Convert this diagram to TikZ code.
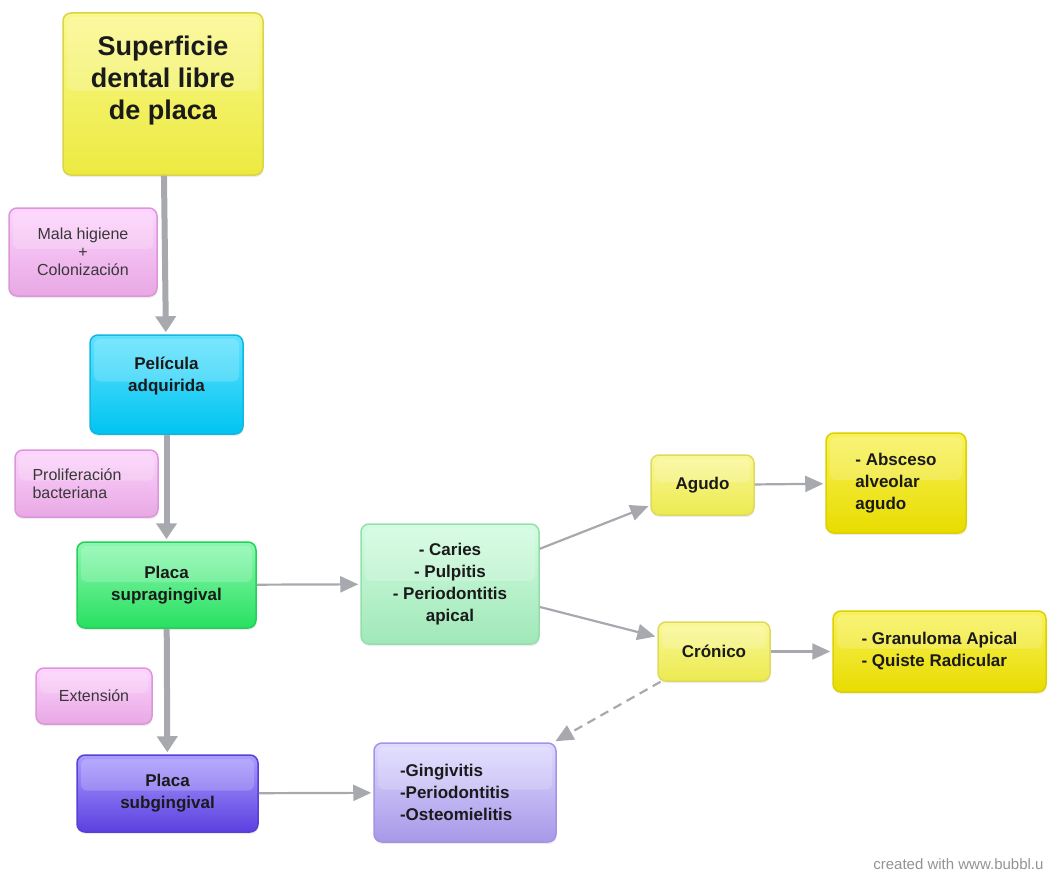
\documentclass[tikz,border=0pt]{standalone}
\usepackage{fontspec}
\setmainfont{Liberation Sans}
\usetikzlibrary{arrows.meta,shadows}

\definecolor{linkgray}{HTML}{A7A9AE}
\definecolor{inkdark}{HTML}{1A1A1A}

\begin{document}
\begin{tikzpicture}[x=1pt,y=-1pt,
    box/.style={rounded corners=8pt, line width=1.5pt, align=center, inner sep=4pt, text=inkdark,
        drop shadow={opacity=0.15, shadow xshift=0.5pt, shadow yshift=-2pt},
        path picture={\fill[white, opacity=0.18, rounded corners=6pt]
            ([xshift=4pt,yshift=-4pt]path picture bounding box.north west) rectangle
            ([xshift=-4pt,yshift=3pt]path picture bounding box.east);}},
    topic/.style={box, font=\bfseries\fontsize{17}{22}\selectfont},
    note/.style={box, font=\fontsize{16}{18}\selectfont, text=black!78},
    boxtext/.style={font=\bfseries\fontsize{17}{22}\selectfont, text=inkdark, align=center},
    yellowbox/.style={top color={rgb,255:red,250;green,248;blue,140}, bottom color={rgb,255:red,236;green,234;blue,64}, draw={rgb,255:red,218;green,212;blue,70}},
    lightyellow/.style={top color={rgb,255:red,250;green,248;blue,150}, bottom color={rgb,255:red,236;green,234;blue,80}, draw={rgb,255:red,222;green,218;blue,96}},
    goldbox/.style={top color={rgb,255:red,248;green,242;blue,90}, bottom color={rgb,255:red,232;green,220;blue,0}, draw={rgb,255:red,220;green,208;blue,0}},
    pinkbox/.style={top color={rgb,255:red,253;green,212;blue,253}, bottom color={rgb,255:red,232;green,168;blue,228}, draw={rgb,255:red,220;green,150;blue,218}},
    cyanbox/.style={top color={rgb,255:red,96;green,226;blue,255}, bottom color={rgb,255:red,0;green,196;blue,240}, draw={rgb,255:red,16;green,184;blue,224}},
    greenbox/.style={top color={rgb,255:red,140;green,248;blue,176}, bottom color={rgb,255:red,40;green,224;blue,96}, draw={rgb,255:red,36;green,208;blue,90}},
    mintbox/.style={top color={rgb,255:red,210;green,252;blue,224}, bottom color={rgb,255:red,160;green,232;blue,184}, draw={rgb,255:red,150;green,222;blue,172}},
    violetbox/.style={top color={rgb,255:red,170;green,156;blue,255}, bottom color={rgb,255:red,92;green,64;blue,224}, draw={rgb,255:red,84;green,66;blue,216}},
    lavenderbox/.style={top color={rgb,255:red,222;green,218;blue,255}, bottom color={rgb,255:red,168;green,152;blue,232}, draw={rgb,255:red,164;green,148;blue,226}},
    trunk/.style={line width=6pt, draw=linkgray, -{Triangle[width=20pt,length=16pt]}, shorten >=2pt},
    link/.style={line width=2.2pt, draw=linkgray, -{Triangle[width=16pt,length=18pt]}, shorten >=2pt}
]
\useasboundingbox (0,0) rectangle (1047,875);

% main chain
\node[box, yellowbox, minimum width=200, minimum height=162,
    label={[boxtext, font=\bfseries\fontsize{27}{32}\selectfont, yshift=13pt]center:Superficie\\dental libre\\de placa}] (superficie) at (163,94) {};
\node[box, cyanbox, minimum width=153, minimum height=99,
    label={[boxtext, yshift=8pt]center:Película\\adquirida}] (pelicula) at (166.5,384.5) {};
\node[topic, greenbox, minimum width=179, minimum height=86] (supra) at (166.5,585) {Placa\\supragingival};
\node[topic, violetbox, minimum width=181, minimum height=77] (sub) at (167.5,793.5) {Placa\\subgingival};

% side notes
\node[note, pinkbox, minimum width=148, minimum height=88] (higiene) at (83,252) {Mala higiene\\+\\Colonización};
\node[note, pinkbox, minimum width=143, minimum height=67, align=left, text width=108] (proliferacion) at (86.5,483.5) {Proliferación\\bacteriana};
\node[note, pinkbox, minimum width=116, minimum height=56] (extension) at (94,696) {Extensión};

% lesions
\node[topic, mintbox, minimum width=178, minimum height=120] (caries) at (450,584) {- Caries\\- Pulpitis\\- Periodontitis\\apical};
\node[topic, lightyellow, minimum width=103, minimum height=60] (agudo) at (702.5,485) {Agudo};
\node[topic, lightyellow, minimum width=112, minimum height=59] (cronico) at (714,651.5) {Crónico};
\node[topic, goldbox, minimum width=140, minimum height=100, align=left] (absceso) at (896,483) {- Absceso\\alveolar\\agudo};
\node[topic, goldbox, minimum width=213, minimum height=81, align=left] (granuloma) at (939.5,651.5) {- Granuloma Apical\\- Quiste Radicular};
\node[topic, lavenderbox, minimum width=182, minimum height=99, align=left, text width=130] (gingivitis) at (465,792.5) {-Gingivitis\\-Periodontitis\\-Osteomielitis};

\draw[trunk] (superficie) -- (pelicula);
\draw[trunk] (pelicula) -- (supra);
\draw[trunk] (supra) -- (sub);

\draw[link] (supra) -- (caries);
\draw[link] (caries) -- (agudo);
\draw[link] (caries) -- (cronico);
\draw[link] (agudo) -- (absceso);
\draw[link] (cronico) -- (granuloma);
\draw[link, dashed, dash pattern=on 9pt off 6pt] (cronico) -- (gingivitis);
\draw[link] (sub) -- (gingivitis);

\node[anchor=base east, font=\fontsize{15}{18}\selectfont, text=gray!85] (credit) at (1047,869) {created with www.bubbl.u};
\end{tikzpicture}
\end{document}
